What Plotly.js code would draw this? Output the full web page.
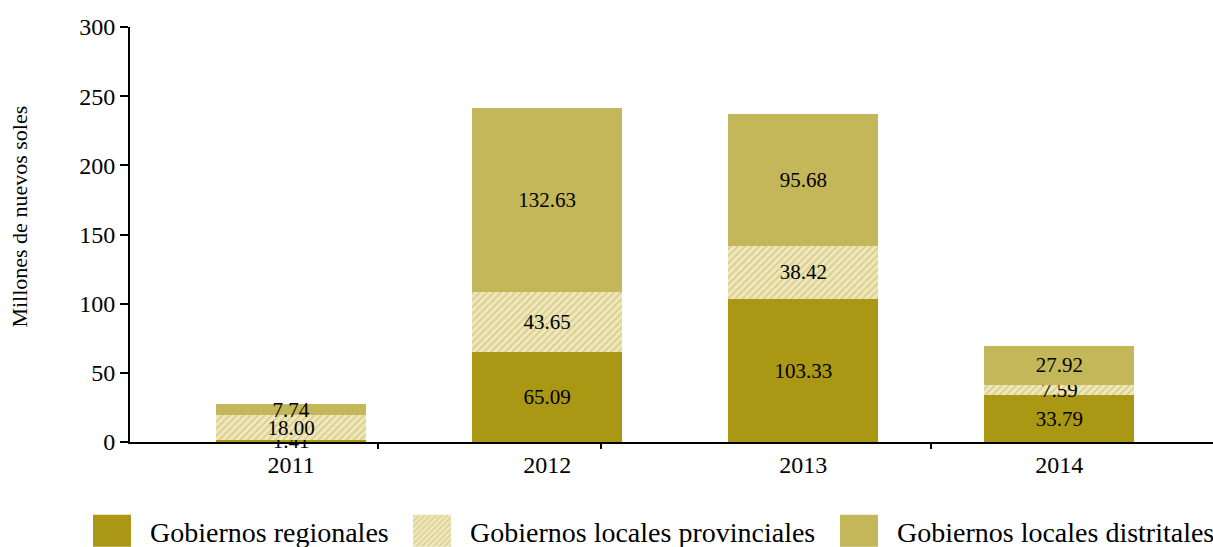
<!DOCTYPE html>
<html>
<head>
<meta charset="utf-8">
<script src="https://cdn.plot.ly/plotly-3.0.1.min.js"></script>
<style>html,body{margin:0;padding:0;background:#fff;}#chart{width:1213px;height:547px;}</style>
</head>
<body>
<div id="chart"></div>
<script>
const years = ["2011", "2012", "2013", "2014"];
const regionales = [1.41, 65.09, 103.33, 33.79];
const provinciales = [18.00, 43.65, 38.42, 7.59];
const distritales = [7.74, 132.63, 95.68, 27.92];
const seriesNames = ["Gobiernos regionales", "Gobiernos locales provinciales", "Gobiernos locales distritales"];
const yTicks = [0, 50, 100, 150, 200, 250, 300];
const yTitle = "Millones de nuevos soles";

const fontFam = "Liberation Serif, DejaVu Serif, serif";
const fmt = v => v.toFixed(2);

function barTrace(name, vals, color, pattern) {
  const t = {
    type: "bar", name: name, x: years, y: vals,
    text: vals.map(fmt), textposition: "inside", insidetextanchor: "middle",
    constraintext: "none",
    textfont: {family: fontFam, size: 21, color: "#000"},
    marker: {color: color, line: {width: 0}},
    width: 0.586, cliponaxis: false, hoverinfo: "skip"
  };
  if (pattern) t.marker.pattern = pattern;
  return t;
}

const data = [
  barTrace(seriesNames[0], regionales, "#aa9714"),
  barTrace(seriesNames[1], provinciales, "#efe8bd", {shape: "/", fgcolor: "#dacd8c", bgcolor: "#efe8bd", size: 5, solidity: 0.35}),
  barTrace(seriesNames[2], distritales, "#c4b75a"),
  {type: "scatter", x: [0], y: [0], xaxis: "x2", mode: "markers", marker: {opacity: 0}, showlegend: false, hoverinfo: "skip"}
];

const layout = {
  width: 1213, height: 547,
  margin: {l: 130, r: 0, t: 27, b: 105, autoexpand: false},
  paper_bgcolor: "#fff", plot_bgcolor: "#fff",
  barmode: "stack",
  font: {family: fontFam, color: "#000"},
  xaxis: {
    type: "category", range: [-0.629, 3.60],
    showline: true, linecolor: "#000", linewidth: 2,
    ticks: "", showgrid: false, zeroline: false,
    tickfont: {family: fontFam, size: 24, color: "#000"}
  },
  xaxis2: {
    overlaying: "x", type: "linear", range: [-0.629, 3.60],
    showticklabels: false, showgrid: false, zeroline: false, showline: false,
    tickmode: "array", tickvals: [0.34, 1.21, 2.5], ticks: "outside", ticklen: 6, tickwidth: 2, tickcolor: "#000",
    anchor: "y"
  },
  yaxis: {
    range: [0, 300], tickmode: "array", tickvals: yTicks,
    showline: true, linecolor: "#000", linewidth: 2,
    ticks: "outside", ticklen: 8, tickwidth: 2, tickcolor: "#000",
    showgrid: false, zeroline: false,
    tickfont: {family: fontFam, size: 24, color: "#000"}
  },
  annotations: [{
    text: yTitle, xref: "paper", yref: "paper", x: -0.102, y: 0.542,
    xanchor: "center", yanchor: "middle", textangle: -90, showarrow: false,
    font: {family: fontFam, size: 22, color: "#000"}
  }],
  legend: {
    orientation: "h", x: -0.05, xanchor: "left", y: -0.2145, yanchor: "middle",
    font: {family: fontFam, size: 28, color: "#000"},
    traceorder: "normal", itemwidth: 50, tracegroupgap: 0, bgcolor: "rgba(0,0,0,0)"
  },
  showlegend: true
};

Plotly.newPlot("chart", data, layout, {displayModeBar: false, staticPlot: true}).then(gd => {
  gd.querySelectorAll(".legend [clip-path]").forEach(e => e.removeAttribute("clip-path"));
  const targets = [93, 413, 840];
  const items = gd.querySelectorAll(".legend .traces");
  items.forEach((it, i) => {
    const p = it.querySelector(".legendpoints path");
    const t = it.querySelector("text.legendtext");
    if (!p || !t) return;
    p.setAttribute("d", "M19,16H-19V-16H19Z");
    p.removeAttribute("transform");
    let pr = p.getBoundingClientRect(), tr = t.getBoundingClientRect();
    const tx = (tr.left - 19) - pr.right;
    p.setAttribute("transform", `translate(${tx},0)`);
    pr = p.getBoundingClientRect();
    const d = targets[i] - pr.left;
    const m = /translate\(\s*([-\d.e]+)[\s,]+([-\d.e]+)\s*\)/.exec(it.getAttribute("transform") || "");
    const x0 = m ? +m[1] : 0, y0 = m ? +m[2] : 0;
    it.setAttribute("transform", `translate(${x0 + d},${y0})`);
  });
});
</script>
</body>
</html>
